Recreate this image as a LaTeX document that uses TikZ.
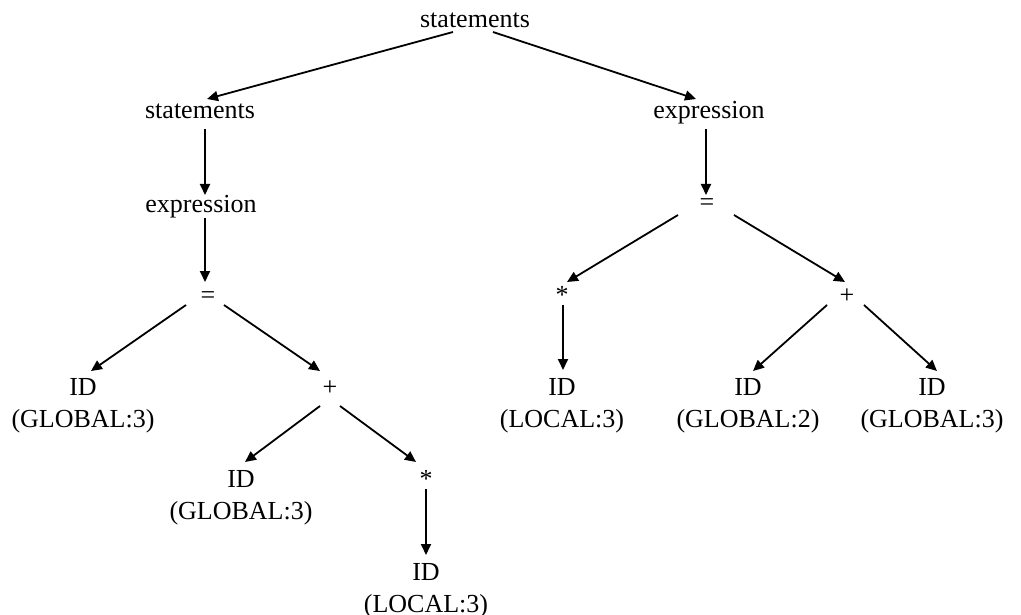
\documentclass[tikz,border=0pt]{standalone}
\usepackage{fontspec}
\setmainfont{Liberation Serif}
\usetikzlibrary{arrows.meta}
\tikzset{
  lbl/.style={font=\fontsize{26}{32}\selectfont, inner sep=0pt, anchor=base},
  idlbl/.style={font=\fontsize{26}{32}\selectfont, inner sep=0pt, anchor=north, align=center},
  arr/.style={line width=1.8pt, -{Triangle[length=11pt,width=10pt]}}
}
\begin{document}
\begin{tikzpicture}[x=1pt,y=-1pt]
\useasboundingbox (0,0) rectangle (1021,615);
% nodes
\node[lbl] (root) at (475,28) {statements};
\node[lbl] (stL) at (200,119) {statements};
\node[lbl] (exL) at (201,212) {expression};
\node[lbl] (eqL) at (208,303) {=};
\node[lbl] (plL) at (330,395) {+};
\node[lbl] (starL) at (426,487) {*};
\node[idlbl] (idL1) at (83,378) {ID\\(GLOBAL:3)};
\node[idlbl] (idL2) at (241,470) {ID\\(GLOBAL:3)};
\node[idlbl] (idL3) at (426,563) {ID\\(LOCAL:3)};
\node[lbl] (exR) at (709,119) {expression};
\node[lbl] (eqR) at (707,211) {=};
\node[lbl] (starR) at (562,303) {*};
\node[lbl] (plR) at (847,303) {+};
\node[idlbl] (idR1) at (562,378) {ID\\(LOCAL:3)};
\node[idlbl] (idR2) at (748,378) {ID\\(GLOBAL:2)};
\node[idlbl] (idR3) at (932,378) {ID\\(GLOBAL:3)};
% edges
\draw[arr] ([xshift=-22pt,yshift=-4pt]root.base) -- ([xshift=7pt,yshift=20pt]stL.base);
\draw[arr] ([xshift=18pt,yshift=-4pt]root.base) -- ([xshift=-13pt,yshift=20pt]exR.base);
\draw[arr] ([xshift=5pt,yshift=-10pt]stL.base) -- ([xshift=4pt,yshift=17pt]exL.base);
\draw[arr] ([xshift=4pt,yshift=-6pt]exL.base) -- ([xshift=-3pt,yshift=21pt]eqL.base);
\draw[arr] ([xshift=-22pt,yshift=-2pt]eqL.base) -- ([xshift=8pt,yshift=7pt]idL1.north);
\draw[arr] ([xshift=16pt,yshift=-2pt]eqL.base) -- ([xshift=-10pt,yshift=24pt]plL.base);
\draw[arr] ([xshift=-10pt,yshift=-11pt]plL.base) -- ([xshift=4pt,yshift=8pt]idL2.north);
\draw[arr] ([xshift=10pt,yshift=-11pt]plL.base) -- ([xshift=-10pt,yshift=25pt]starL.base);
\draw[arr] ([yshift=-2pt]starL.base) -- ([yshift=8pt]idL3.north);
\draw[arr] ([xshift=-3pt,yshift=-10pt]exR.base) -- ([xshift=-1pt,yshift=16pt]eqR.base);
\draw[arr] ([xshift=-29pt,yshift=-4pt]eqR.base) -- ([xshift=5pt,yshift=21pt]starR.base);
\draw[arr] ([xshift=27pt,yshift=-4pt]eqR.base) -- ([xshift=-2pt,yshift=21pt]plR.base);
\draw[arr] ([xshift=1pt,yshift=-2pt]starR.base) -- ([xshift=1pt,yshift=8pt]idR1.north);
\draw[arr] ([xshift=-20pt,yshift=-2pt]plR.base) -- ([xshift=5pt,yshift=7pt]idR2.north);
\draw[arr] ([xshift=17pt,yshift=-2pt]plR.base) -- ([xshift=5pt,yshift=7pt]idR3.north);
\end{tikzpicture}
\end{document}
